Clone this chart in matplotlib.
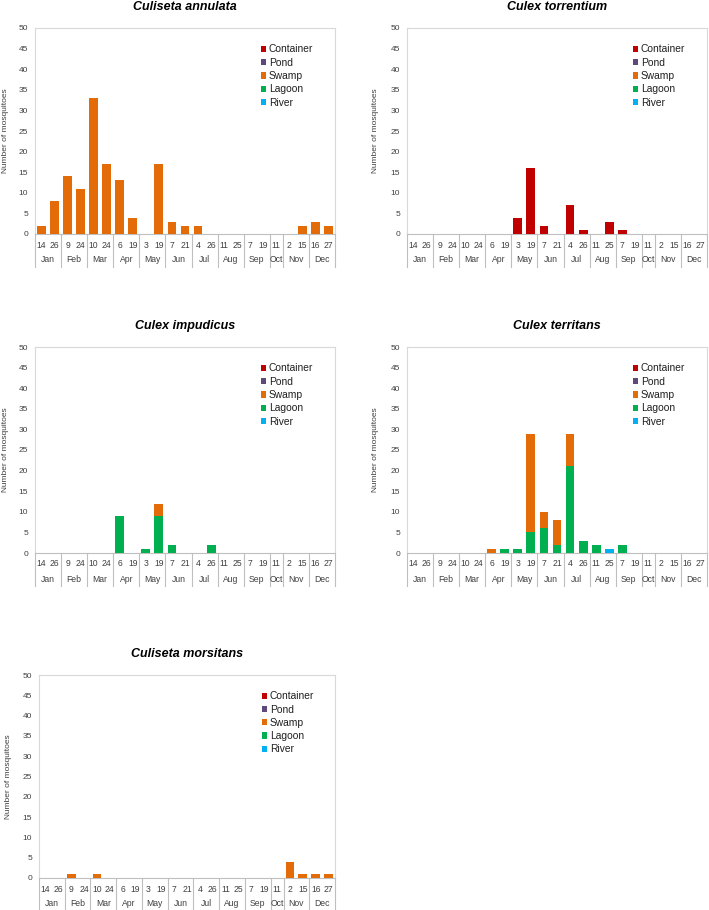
import matplotlib
matplotlib.use('Agg')
import matplotlib.pyplot as plt
from matplotlib.patches import Patch
import numpy as np

plt.rcParams['font.family'] = ['Liberation Sans', 'DejaVu Sans']

# sampling dates (day, month)
days = ['14', '26', '9', '24', '10', '24', '6', '19', '3', '19', '7', '21',
        '4', '26', '11', '25', '7', '19', '11', '2', '15', '16', '27']
months = ['Jan', 'Feb', 'Mar', 'Apr', 'May', 'Jun', 'Jul', 'Aug', 'Sep', 'Oct', 'Nov', 'Dec']
month_sizes = [2, 2, 2, 2, 2, 2, 2, 2, 2, 1, 2, 2]

habitats = ['Container', 'Pond', 'Swamp', 'Lagoon', 'River']
colors = {'Container': '#C00000', 'Pond': '#5F497A', 'Swamp': '#E36C09',
          'Lagoon': '#00B050', 'River': '#00B0F0'}

# Culiseta annulata
annulata_swamp = [2, 8, 14, 11, 33, 17, 13, 4, 0, 17, 3, 2, 2, 0, 0, 0, 0, 0, 0, 0, 2, 3, 2]
# Culex torrentium
torrentium_container = [0, 0, 0, 0, 0, 0, 0, 0, 4, 16, 2, 0, 7, 1, 0, 3, 1, 0, 0, 0, 0, 0, 0]
# Culex impudicus
impudicus_lagoon = [0, 0, 0, 0, 0, 0, 9, 0, 1, 9, 2, 0, 0, 2, 0, 0, 0, 0, 0, 0, 0, 0, 0]
impudicus_swamp = [0, 0, 0, 0, 0, 0, 0, 0, 0, 3, 0, 0, 0, 0, 0, 0, 0, 0, 0, 0, 0, 0, 0]
# Culex territans
territans_lagoon = [0, 0, 0, 0, 0, 0, 0, 1, 1, 5, 6, 2, 21, 3, 2, 0, 2, 0, 0, 0, 0, 0, 0]
territans_swamp = [0, 0, 0, 0, 0, 0, 1, 0, 0, 24, 4, 6, 8, 0, 0, 0, 0, 0, 0, 0, 0, 0, 0]
territans_river = [0, 0, 0, 0, 0, 0, 0, 0, 0, 0, 0, 0, 0, 0, 0, 1, 0, 0, 0, 0, 0, 0, 0]
# Culiseta morsitans
morsitans_swamp = [0, 0, 1, 0, 1, 0, 0, 0, 0, 0, 0, 0, 0, 0, 0, 0, 0, 0, 0, 4, 1, 1, 1]

panels = [
    ('Culiseta annulata', {'Swamp': annulata_swamp}),
    ('Culex torrentium', {'Container': torrentium_container}),
    ('Culex impudicus', {'Lagoon': impudicus_lagoon, 'Swamp': impudicus_swamp}),
    ('Culex territans', {'River': territans_river, 'Lagoon': territans_lagoon,
                         'Swamp': territans_swamp}),
    ('Culiseta morsitans', {'Swamp': morsitans_swamp}),
]

# axes boxes in pixels: left, top, right, bottom; y-label centre x
W, H = 709, 910
boxes = [(35, 28, 335, 234), (407, 28, 707, 234),
         (35, 347, 335, 553), (407, 347, 707, 553),
         (39, 675, 335, 878)]
label_x = [9, 379, 9, 379, 12]

fig = plt.figure(figsize=(W / 100, H / 100), dpi=100)
grid_c = '#D9D9D9'
txt_c = '#404040'

for (title, series), (l, t, r, b), lx in zip(panels, boxes, label_x):
    ax = fig.add_axes([l / W, 1 - b / H, (r - l) / W, (b - t) / H])
    hpx = b - t
    x = np.arange(23)
    bottom = np.zeros(23)
    # stack order bottom->top: River, Lagoon, Swamp, Pond, Container
    for h in ['River', 'Lagoon', 'Swamp', 'Pond', 'Container']:
        if h in series:
            v = np.array(series[h])
            ax.bar(x, v, 0.68, bottom=bottom, color=colors[h], zorder=3)
            bottom += v
    ax.set_xlim(-0.5, 22.5)
    ax.set_ylim(0, 50)
    ax.set_yticks(range(0, 51, 5))
    ax.tick_params(axis='y', length=0, pad=5, labelsize=6, labelcolor=txt_c)
    ax.set_xticks([])
    for s in ax.spines.values():
        s.set_color(grid_c)
        s.set_linewidth(0.8)
    ax.spines['bottom'].set_color('#BFBFBF')
    ax.set_ylabel('Number of mosquitoes', fontsize=6, color=txt_c)
    ax.yaxis.set_label_coords((lx - l) / (r - l), 0.5)
    ax.text(0.5, 1 + 21 / hpx, title, transform=ax.transAxes, ha='center',
            va='center', fontsize=9, fontweight='bold', fontstyle='italic')

    trans = ax.get_xaxis_transform()
    for i, d in enumerate(days):
        ax.text(i, -11 / hpx, d, transform=trans, ha='center', va='center',
                fontsize=6.2, color=txt_c)
    edges = np.concatenate([[0], np.cumsum(month_sizes)]) - 0.5
    for m, a, e in zip(months, edges[:-1], edges[1:]):
        ax.text((a + e) / 2, -26 / hpx, m, transform=trans, ha='center',
                va='center', fontsize=6.2, color=txt_c)
    for e in edges:
        ax.plot([e, e], [0, -33 / hpx], transform=trans, color='#BFBFBF',
                lw=0.8, clip_on=False)

    handles = [Patch(facecolor=colors[h], edgecolor='none') for h in habitats]
    ax.legend(handles, habitats, loc='upper left', bbox_to_anchor=(0.735, 0.945),
              frameon=False, fontsize=7.4, handlelength=0.55, handleheight=0.55,
              handletextpad=0.25, labelspacing=0.32, borderpad=0,
              labelcolor='#202020')

fig.savefig('out.png', dpi=100)
